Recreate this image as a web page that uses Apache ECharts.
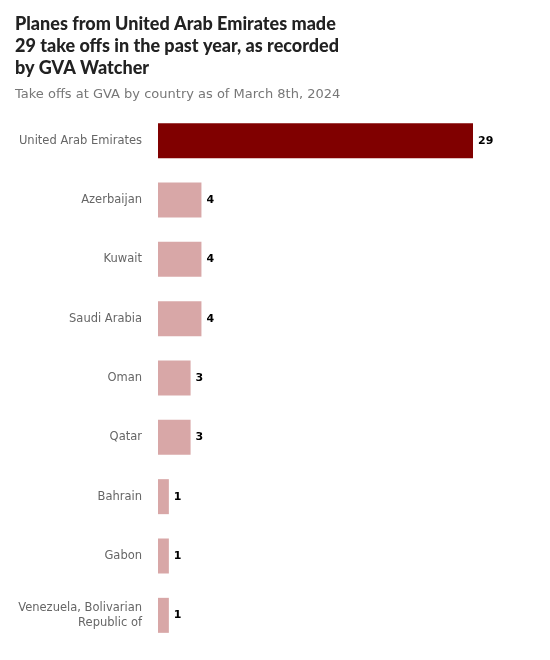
<!DOCTYPE html>
<html>
<head>
<meta charset="utf-8">
<script src="https://cdn.jsdelivr.net/npm/echarts@6/dist/echarts.min.js"></script>
<style>
  html, body { margin: 0; padding: 0; background: #fff; }
  #main { width: 550px; height: 660px; }
</style>
</head>
<body>
<div id="main"></div>
<script>
// data
var countries = ['United Arab Emirates', 'Azerbaijan', 'Kuwait', 'Saudi Arabia', 'Oman',
  'Qatar', 'Bahrain', 'Gabon', 'Venezuela, Bolivarian\nRepublic of'];
var takeOffs = [29, 4, 4, 4, 3, 3, 1, 1, 1];

var chart = echarts.init(document.getElementById('main'));
chart.setOption({
  animation: false,
  title: [{
    text: 'Planes from United Arab Emirates made\n29 take offs in the past year, as recorded\nby GVA Watcher',
    left: 10, top: 8,
    textStyle: { fontFamily: 'Lato', fontWeight: 900, fontSize: 18, lineHeight: 22, color: '#222' }
  }, {
    text: 'Take offs at GVA by country as of March 8th, 2024',
    left: 10, top: 83,
    textStyle: { fontFamily: 'DejaVu Sans', fontWeight: 'normal', fontSize: 13, color: '#777' }
  }],
  grid: { left: 158, right: 77, top: 111, bottom: 15 },
  xAxis: { type: 'value', min: 0, max: 29, show: false },
  yAxis: {
    type: 'category', data: countries, inverse: true,
    axisLine: { show: false }, axisTick: { show: false },
    axisLabel: { color: '#666', fontFamily: 'DejaVu Sans', fontSize: 11.5, margin: 16, lineHeight: 15 }
  },
  series: [{
    type: 'bar',
    data: takeOffs.map(function (v, i) {
      return { value: v, itemStyle: { color: i === 0 ? '#800000' : '#d8a7a7' } };
    }),
    barWidth: 35,
    label: {
      show: true, position: 'right', distance: 5,
      color: '#000', fontWeight: 'bold', fontSize: 11, fontFamily: 'DejaVu Sans'
    }
  }]
});
</script>
</body>
</html>
